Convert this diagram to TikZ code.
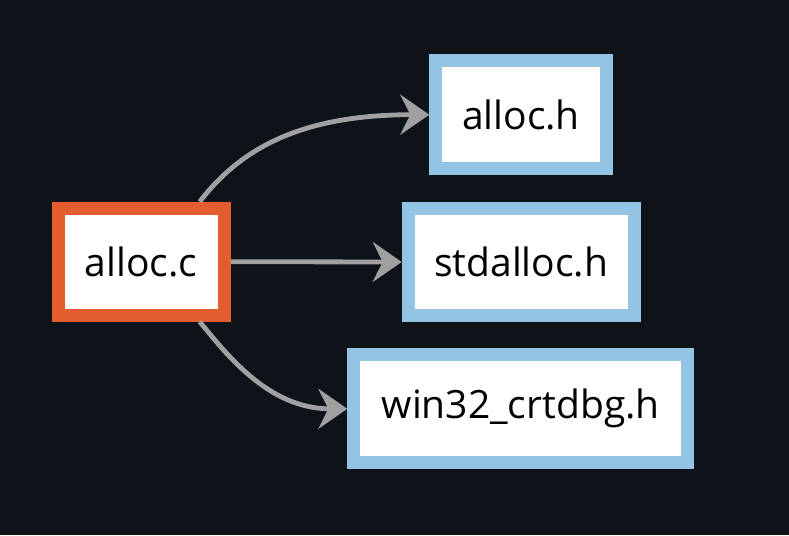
\documentclass[tikz,border=0pt]{standalone}
\usepackage{fontspec}
\setmainfont{Open Sans}
\usetikzlibrary{arrows.meta}
\definecolor{bgc}{HTML}{0E131A}
\definecolor{srcc}{HTML}{E35D2E}
\definecolor{hdrc}{HTML}{94C4E3}
\definecolor{edgec}{HTML}{A0A0A0}
\begin{document}
\begin{tikzpicture}[x=1pt,y=-1pt,
  box/.style={rectangle, fill=white, line width=13pt, inner sep=0pt,
    font=\fontsize{39}{44}\selectfont, text=black},
  srcbox/.style={box, draw=srcc},
  hdrbox/.style={box, draw=hdrc},
  dep/.style={draw=edgec, line width=4.8pt,
    -{Stealth[length=29pt, width=40pt, inset=10pt]}}]
\fill[bgc] (0,0) rectangle (789,535);
\useasboundingbox (0,0) rectangle (789,535);
\node[srcbox, minimum width=166pt, minimum height=107pt] (c) at (141.2,261.7) {alloc.c};
\node[hdrbox, minimum width=170.4pt, minimum height=107.7pt] (h) at (521,114.7) {alloc.h};
\node[hdrbox, minimum width=226pt, minimum height=107.6pt] (s) at (521.2,262) {stdalloc.h};
\node[hdrbox, minimum width=333.7pt, minimum height=108pt] (w) at (520.7,408.8) {win32\_crtdbg.h};
\draw[dep] ([xshift=-31pt]c.north east) .. controls +(40,-52) and +(-130,0) .. (h.west);
\draw[dep] (c.east) -- (s.west);
\draw[dep] ([xshift=-31pt]c.south east) .. controls +(25,30) and +(-80,0) .. (w.west);
\end{tikzpicture}
\end{document}
